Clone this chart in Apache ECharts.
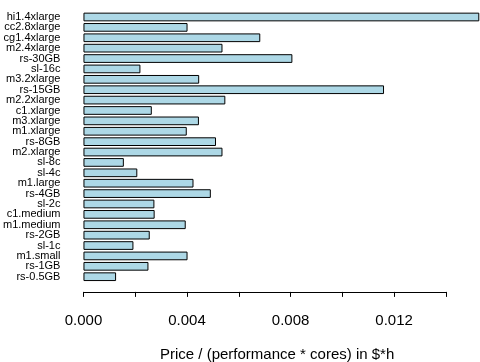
<!DOCTYPE html>
<html><head><meta charset="utf-8">
<script src="https://cdn.jsdelivr.net/npm/echarts@6/dist/echarts.min.js"></script>
<style>html,body{margin:0;padding:0;background:#fff}#c{width:480px;height:362px}</style>
</head><body><div id="c"></div>
<script>
const categories = ["hi1.4xlarge","cc2.8xlarge","cg1.4xlarge","m2.4xlarge","rs-30GB","sl-16c","m3.2xlarge","rs-15GB","m2.2xlarge","c1.xlarge","m3.xlarge","m1.xlarge","rs-8GB","m2.xlarge","sl-8c","sl-4c","m1.large","rs-4GB","sl-2c","c1.medium","m1.medium","rs-2GB","sl-1c","m1.small","rs-1GB","rs-0.5GB"];
const values = [0.01529,0.00402,0.00683,0.00537,0.00807,0.00220,0.00447,0.01161,0.00548,0.00264,0.00446,0.00399,0.00512,0.00537,0.00156,0.00208,0.00425,0.00492,0.00274,0.00275,0.00395,0.00256,0.00193,0.00402,0.00251,0.00126];
const xTicks = [0, 0.004, 0.008, 0.012];
const xLabel = "Price / (performance * cores) in $*h";

const font = "'Liberation Sans', Arial, Helvetica, sans-serif";
const chart = echarts.init(document.getElementById('c'));
chart.setOption({
  animation: false,
  backgroundColor: '#fff',
  title: {
    text: xLabel, left: 160, top: 347, padding: 0,
    textStyle: {fontFamily: font, fontSize: 15, fontWeight: 'normal', color: '#000'}
  },
  grid: {left: 83.3, width: 362.6, top: 11.8, height: 270.1, containLabel: false},
  xAxis: {
    type: 'value', min: 0, max: 0.014, interval: 0.002,
    position: 'bottom', offset: 10,
    splitLine: {show: false},
    axisLine: {show: true, lineStyle: {color: '#000', width: 1}},
    axisTick: {show: true, length: 5, lineStyle: {color: '#000', width: 1}},
    axisLabel: {
      margin: 21, fontFamily: font, fontSize: 15, color: '#000',
      formatter: v => {
        const ok = xTicks.some(t => Math.abs(t - v) < 1e-9);
        return ok ? v.toFixed(3) : '';
      }
    }
  },
  yAxis: {
    type: 'category', data: categories, inverse: true,
    axisLine: {show: false}, axisTick: {show: false}, splitLine: {show: false},
    axisLabel: {margin: 23, fontFamily: font, fontSize: 11, color: '#000', interval: 0}
  },
  series: [{
    type: 'bar', data: values, barWidth: 8.7, clip: false,
    itemStyle: {color: '#ADD8E6', borderColor: '#000', borderWidth: 1}
  }]
});
</script></body></html>
